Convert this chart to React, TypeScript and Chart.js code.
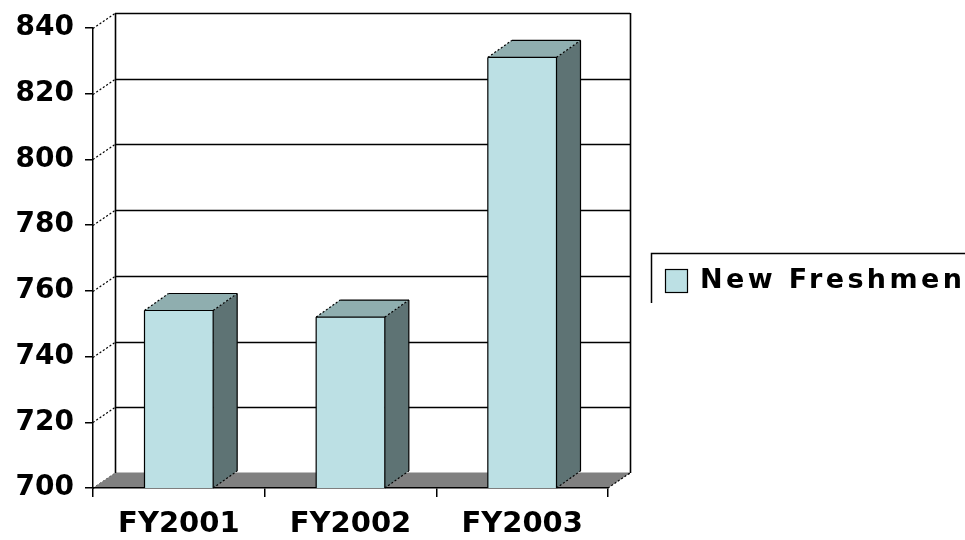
import React, { useEffect, useRef } from 'react';
import { Chart, registerables } from 'chart.js';

Chart.register(...registerables);

const categories = ['FY2001', 'FY2002', 'FY2003'];
const newFreshmen = [754, 752, 831];
const seriesLabel = 'New Freshmen';
const yMin = 700;
const yMax = 840;
const yStep = 20;

const FONT = '"DejaVu Sans", "Liberation Sans", sans-serif';
const FRONT = '#BCE0E4';
const TOP = '#8FAEAF';
const SIDE = '#5E7374';
const FLOOR = '#808080';

// depth offsets (pixels) for the pseudo-3D look
const DX = 22;
const DY = -15;
const BDX = 24;
const BDY = -17;

const threeD = {
  id: 'threeD',
  beforeDraw(chart: any) {
    const { ctx, chartArea: a, scales } = chart;
    const ys = scales.y;
    ctx.save();
    ctx.strokeStyle = '#000';
    for (let v = yMin; v <= yMax; v += yStep) {
      const py = Math.round(ys.getPixelForValue(v)) + 0.5;
      ctx.lineWidth = 1.6;
      ctx.setLineDash([]);
      ctx.beginPath();
      ctx.moveTo(a.left + DX, py + DY);
      ctx.lineTo(a.right + DX, py + DY);
      ctx.stroke();
      ctx.lineWidth = 1.2;
      ctx.setLineDash([2, 2]);
      ctx.beginPath();
      ctx.moveTo(a.left, py);
      ctx.lineTo(a.left + DX, py + DY);
      ctx.stroke();
    }
    ctx.setLineDash([]);
    ctx.lineWidth = 1.6;
    const topY = Math.round(ys.getPixelForValue(yMax)) + DY;
    const botY = Math.round(ys.getPixelForValue(yMin)) + DY;
    ctx.beginPath();
    ctx.moveTo(a.left + DX + 0.5, topY);
    ctx.lineTo(a.left + DX + 0.5, botY);
    ctx.moveTo(a.right + DX + 0.5, topY);
    ctx.lineTo(a.right + DX + 0.5, botY);
    ctx.stroke();
    const fb = Math.round(ys.getPixelForValue(yMin));
    ctx.fillStyle = FLOOR;
    ctx.beginPath();
    ctx.moveTo(a.left, fb);
    ctx.lineTo(a.right, fb);
    ctx.lineTo(a.right + DX, fb + DY);
    ctx.lineTo(a.left + DX, fb + DY);
    ctx.closePath();
    ctx.fill();
    ctx.lineWidth = 1.2;
    ctx.setLineDash([2, 2]);
    ctx.beginPath();
    ctx.moveTo(a.right, fb);
    ctx.lineTo(a.right + DX, fb + DY);
    ctx.stroke();
    ctx.restore();
  },
  afterDatasetsDraw(chart: any) {
    const { ctx, chartArea: a } = chart;
    const meta = chart.getDatasetMeta(0);
    ctx.save();
    meta.data.forEach((el: any) => {
      const p = el.getProps(['x', 'y', 'base', 'width'], true);
      const L = p.x - p.width / 2;
      const R = p.x + p.width / 2;
      const t = p.y;
      const b = Math.min(p.base, a.bottom);
      ctx.lineWidth = 1.2;
      ctx.strokeStyle = '#000';
      ctx.fillStyle = TOP;
      ctx.beginPath();
      ctx.moveTo(L, t);
      ctx.lineTo(L + BDX, t + BDY);
      ctx.lineTo(R + BDX, t + BDY);
      ctx.lineTo(R, t);
      ctx.closePath();
      ctx.fill();
      ctx.fillStyle = SIDE;
      ctx.beginPath();
      ctx.moveTo(R, t);
      ctx.lineTo(R + BDX, t + BDY);
      ctx.lineTo(R + BDX, b + BDY);
      ctx.lineTo(R, b);
      ctx.closePath();
      ctx.fill();
      ctx.beginPath();
      ctx.moveTo(R + BDX, t + BDY);
      ctx.lineTo(R + BDX, b + BDY);
      ctx.moveTo(L + BDX, t + BDY);
      ctx.lineTo(R + BDX, t + BDY);
      ctx.stroke();
      ctx.setLineDash([2, 2]);
      ctx.beginPath();
      ctx.moveTo(L, t);
      ctx.lineTo(L + BDX, t + BDY);
      ctx.moveTo(R, t);
      ctx.lineTo(R + BDX, t + BDY);
      ctx.moveTo(R, b);
      ctx.lineTo(R + BDX, b + BDY);
      ctx.stroke();
      ctx.setLineDash([]);
      ctx.beginPath();
      ctx.moveTo(L, t);
      ctx.lineTo(R, t);
      ctx.lineTo(R, b);
      ctx.moveTo(L, t);
      ctx.lineTo(L, b);
      ctx.stroke();
    });
    ctx.restore();
  },
  afterDraw(chart: any) {
    const { ctx } = chart;
    ctx.save();
    ctx.strokeStyle = '#000';
    ctx.lineWidth = 1.5;
    ctx.beginPath();
    ctx.moveTo(651.5, 303);
    ctx.lineTo(651.5, 253.5);
    ctx.lineTo(965, 253.5);
    ctx.stroke();
    ctx.fillStyle = FRONT;
    ctx.fillRect(665, 269, 23, 24);
    ctx.lineWidth = 1.2;
    ctx.strokeRect(665.5, 269.5, 22, 23);
    ctx.fillStyle = '#000';
    ctx.font = `bold 27px ${FONT}`;
    (ctx as any).letterSpacing = '3.4px';
    ctx.textBaseline = 'alphabetic';
    ctx.textAlign = 'left';
    ctx.fillText(chart.data.datasets[0].label, 700, 288);
    ctx.restore();
  },
};

export default function App() {
  const ref = useRef<HTMLCanvasElement | null>(null);
  useEffect(() => {
    document.body.style.margin = '0';
    const canvas = ref.current!;
    const chart = new Chart(canvas, {
      type: 'bar',
      data: {
        labels: categories,
        datasets: [
          {
            label: seriesLabel,
            data: newFreshmen,
            backgroundColor: FRONT,
            borderWidth: 0,
            barPercentage: 0.4,
            categoryPercentage: 1,
          },
        ],
      },
      options: {
        animation: false,
        responsive: false,
        devicePixelRatio: 1,
        layout: { padding: { left: 0, top: 27, right: 357, bottom: 0 } },
        plugins: { legend: { display: false }, tooltip: { enabled: false } },
        scales: {
          x: {
            afterFit: (s: any) => { s.height = 52; },
            grid: { offset: true, drawOnChartArea: false, drawTicks: true, tickLength: 9, color: '#000', lineWidth: 1.5 },
            border: { display: true, color: '#000', width: 1.5 },
            ticks: { color: '#000', font: { family: FONT, weight: 'bold', size: 29 }, padding: 10 },
          },
          y: {
            min: yMin,
            max: yMax,
            afterFit: (s: any) => { s.width = 93; },
            grid: { drawOnChartArea: false, drawTicks: true, tickLength: 8, color: '#000', lineWidth: 1.5 },
            border: { display: true, color: '#000', width: 1.5 },
            ticks: { stepSize: yStep, color: '#000', font: { family: FONT, weight: 'bold', size: 28 }, padding: 11 },
          },
        },
      },
      plugins: [threeD],
    });
    return () => chart.destroy();
  }, []);
  return (
    <canvas ref={ref} width={965} height={540} style={{ display: 'block', width: 965, height: 540 }} />
  );
}
